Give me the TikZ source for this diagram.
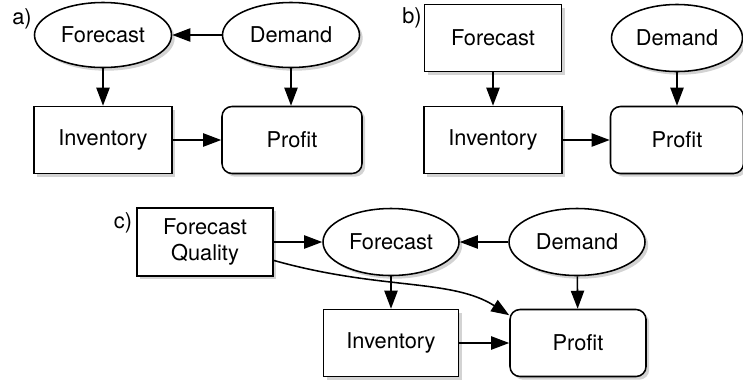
\documentclass[tikz,border=0pt]{standalone}
\usepackage{fontspec}
\setsansfont{TeX Gyre Heros}
\usetikzlibrary{arrows.meta,shapes.geometric,shadows}
\tikzset{
  every node/.style={font=\sffamily\fontsize{15.5}{18.5}\selectfont, text=black},
  var/.style={draw=black, line width=1.1pt, fill=white, inner sep=0pt, align=center,
    drop shadow={shadow xshift=0.8mm, shadow yshift=-0.8mm, opacity=0.35}},
  chance/.style={var, ellipse, minimum width=34.25mm, minimum height=16.25mm},
  decision/.style={var, rectangle, minimum width=34.5mm, minimum height=16.75mm},
  payoff/.style={decision, rounded corners=2.5mm},
  panel/.style={inner sep=0pt},
  link/.style={-{Triangle[length=4.5mm,width=3.3mm]}, draw=black, line width=1.1pt},
}

\begin{document}
\begin{tikzpicture}[x=0.25mm,y=-0.25mm]
  \useasboundingbox (0,0) rectangle (743,379);
  % a)
  \node[panel] (la) at (22,19) {a)};
  \node[chance] (fa) at (103,35) {Forecast};
  \node[chance] (da) at (291,35) {Demand};
  \node[decision] (ia) at (103,140) {Inventory};
  \node[payoff, minimum width=35mm] (pa) at (292,140) {Profit};
  \draw[link] (da) -- (fa);
  \draw[link] (fa) -- (ia);
  \draw[link] (ia) -- (pa);
  \draw[link] (da.south) -- (da.south |- pa.north);
  % b)
  \node[panel] (lb) at (412,18) {b)};
  \node[decision, minimum width=34.25mm] (fb) at (493,38) {Forecast};
  \node[chance, minimum width=32.75mm, minimum height=16.75mm] (db) at (677,38) {Demand};
  \node[decision] (ib) at (493,140) {Inventory};
  \node[payoff, minimum width=33.25mm] (pb) at (677,140) {Profit};
  \draw[link] (fb) -- (ib);
  \draw[link] (db) -- (pb);
  \draw[link] (ib) -- (pb);
  % c)
  \node[panel] (lc) at (123,223) {c)};
  \node[decision, minimum width=34mm, minimum height=17mm] (fq) at (205,242) {Forecast\\Quality};
  \node[chance, minimum width=34mm, minimum height=16.75mm] (fc) at (391,242) {Forecast};
  \node[chance, minimum width=34mm, minimum height=16.75mm] (dc) at (577,242) {Demand};
  \node[decision, minimum width=33.75mm] (ic) at (391,343) {Inventory};
  \node[payoff, minimum width=34mm] (pc) at (578,343) {Profit};
  \draw[link] (fq) -- (fc);
  \draw[link] (dc) -- (fc);
  \draw[link] (fc) -- (ic);
  \draw[link] (dc) -- (pc);
  \draw[link] (ic) -- (pc);
  \draw[link] (fq.-15) .. controls +(107,30) and +(-58,-37) .. (pc.158);
\end{tikzpicture}
\end{document}
